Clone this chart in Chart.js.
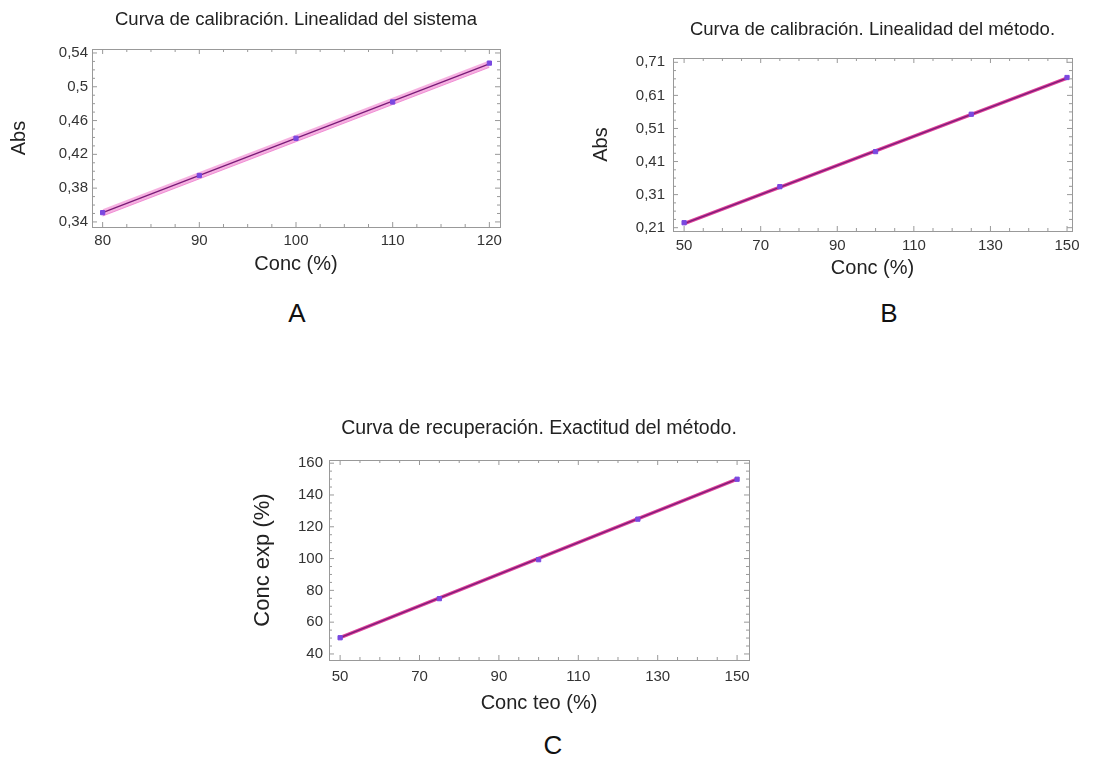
<!DOCTYPE html>
<html>
<head>
<meta charset="utf-8">
<script src="https://cdn.jsdelivr.net/npm/chart.js@4/dist/chart.umd.min.js"></script>
<style>
  body { margin: 0; background: #fff; width: 1096px; height: 762px; position: relative; overflow: hidden; }
  canvas { position: absolute; }
  .tag { position: absolute; font-family: "Liberation Sans", Arial, sans-serif; font-size: 26px; color: #111; transform: translate(-50%, -50%); }
</style>
</head>
<body>
<canvas id="chartA" width="540" height="290" style="left:0;top:0"></canvas>
<canvas id="chartB" width="536" height="290" style="left:560px;top:0"></canvas>
<canvas id="chartC" width="600" height="320" style="left:240px;top:400px"></canvas>
<div class="tag" style="left:297px;top:313px">A</div>
<div class="tag" style="left:889px;top:313px">B</div>
<div class="tag" style="left:553px;top:745px">C</div>
<script>
// A - linealidad del sistema
const concA = [80, 90, 100, 110, 120];
const absA = [0.351, 0.395, 0.439, 0.482, 0.528];
const fitXA = [80, 120];
const fitA = [0.351, 0.527];
const bandUpA = [0.355, 0.531];
const bandLoA = [0.347, 0.523];
const xTicksA = [80, 90, 100, 110, 120];
const yTicksA = [0.34, 0.38, 0.42, 0.46, 0.5, 0.54];

// B - linealidad del metodo
const concB = [50, 75, 100, 125, 150];
const absB = [0.225, 0.334, 0.440, 0.553, 0.664];
const fitXB = [50, 150];
const fitB = [0.222, 0.662];
const xTicksB = [50, 70, 90, 110, 130, 150];
const yTicksB = [0.21, 0.31, 0.41, 0.51, 0.61, 0.71];

// C - exactitud del metodo
const concTeo = [50, 75, 100, 125, 150];
const concExp = [50.2, 74.8, 99.3, 124.8, 149.9];
const fitXC = [50, 150];
const fitC = [50.3, 150.0];
const xTicksC = [50, 70, 90, 110, 130, 150];
const yTicksC = [40, 60, 80, 100, 120, 140, 160];

const FONT = '"Liberation Sans", Arial, sans-serif';
const pts = (xs, ys) => xs.map((x, i) => ({x: x, y: ys[i]}));
const comma = v => String(v).replace('.', ',');

// box round the plot with small inward ticks, like the original
const frame = {
  id: 'frame',
  afterDatasetsDraw(chart) {
    const {ctx, chartArea: a, scales} = chart;
    ctx.save();
    ctx.strokeStyle = '#999';
    ctx.lineWidth = 1;
    ctx.strokeRect(a.left + 0.5, a.top + 0.5, a.right - a.left, a.bottom - a.top);
    ctx.beginPath();
    const xt = scales.x.ticks.map(t => t.value);
    for (let i = 0; i < xt.length; i++) {
      const px = scales.x.getPixelForValue(xt[i]);
      ctx.moveTo(px, a.bottom); ctx.lineTo(px, a.bottom - 5);
      ctx.moveTo(px, a.top); ctx.lineTo(px, a.top + 5);
      if (i < xt.length - 1) {
        for (let k = 1; k < 4; k++) {
          const m = scales.x.getPixelForValue(xt[i] + (xt[i + 1] - xt[i]) * k / 4);
          ctx.moveTo(m, a.bottom); ctx.lineTo(m, a.bottom - 3);
          ctx.moveTo(m, a.top); ctx.lineTo(m, a.top + 3);
        }
      }
    }
    const yt = scales.y.ticks.map(t => t.value);
    for (let i = 0; i < yt.length; i++) {
      const py = scales.y.getPixelForValue(yt[i]);
      ctx.moveTo(a.left, py); ctx.lineTo(a.left + 5, py);
      ctx.moveTo(a.right, py); ctx.lineTo(a.right - 5, py);
      if (i < yt.length - 1) {
        for (let k = 1; k < 4; k++) {
          const m = scales.y.getPixelForValue(yt[i] + (yt[i + 1] - yt[i]) * k / 4);
          ctx.moveTo(a.left, m); ctx.lineTo(a.left + 3, m);
          ctx.moveTo(a.right, m); ctx.lineTo(a.right - 3, m);
        }
      }
    }
    ctx.stroke();
    ctx.restore();
  }
};

function makeChart(id, cfg) {
  const datasets = [];
  if (cfg.band) {
    datasets.push({data: pts(cfg.fitX, cfg.band[0]), showLine: true, borderWidth: 0, pointRadius: 0, fill: false,
      borderColor: 'transparent', order: 4});
    datasets.push({data: pts(cfg.fitX, cfg.band[1]), showLine: true, borderWidth: 1, pointRadius: 0, fill: '-1',
      borderColor: 'rgba(235,110,200,0.7)', backgroundColor: 'rgba(240,125,205,0.6)', order: 3});
  } else {
    datasets.push({data: pts(cfg.fitX, cfg.fit), showLine: true, borderWidth: 3.5, pointRadius: 0,
      borderColor: '#e0409a', order: 3});
  }
  datasets.push({data: pts(cfg.fitX, cfg.fit), showLine: true, borderWidth: 1.3, pointRadius: 0,
    borderColor: '#7a1c78', order: 2});
  datasets.push({data: pts(cfg.xs, cfg.ys), showLine: false, pointStyle: 'rect', pointRadius: 3,
    backgroundColor: '#7a48e0', borderColor: '#7a48e0', borderWidth: 1, order: 1});

  return new Chart(document.getElementById(id), {
    type: 'scatter',
    data: {datasets: datasets},
    plugins: [frame],
    options: {
      responsive: false,
      animation: false,
      layout: {padding: {left: 0, right: cfg.padRight, top: 0, bottom: 0}},
      plugins: {
        legend: {display: false},
        tooltip: {enabled: false},
        title: {
          display: true, text: cfg.title, fullSize: false, color: '#222',
          font: {family: FONT, size: cfg.titleSize, weight: 'normal'},
          padding: cfg.titlePad
        }
      },
      scales: {
        x: {
          type: 'linear', min: cfg.xRange[0], max: cfg.xRange[1],
          grid: {display: false, drawTicks: false}, border: {display: false},
          afterBuildTicks: s => { s.ticks = cfg.xTicks.map(v => ({value: v})); },
          afterFit: s => { s.height = cfg.xAxisH; },
          ticks: {color: '#333', font: {family: FONT, size: 15}, padding: cfg.xTickPad, maxRotation: 0},
          title: {display: true, text: cfg.xTitle, color: '#222', font: {family: FONT, size: cfg.xTitleSize}, padding: {top: 0, bottom: cfg.xTitlePad}}
        },
        y: {
          type: 'linear', min: cfg.yRange[0], max: cfg.yRange[1],
          grid: {display: false, drawTicks: false}, border: {display: false},
          afterBuildTicks: s => { s.ticks = cfg.yTicks.map(v => ({value: v})); },
          afterFit: s => { s.width = cfg.yAxisW; },
          ticks: {color: '#333', font: {family: FONT, size: 15}, padding: cfg.yTickPad, callback: v => comma(v)},
          title: {display: true, text: cfg.yTitle, color: '#222', font: {family: FONT, size: cfg.yTitleSize}, padding: {top: cfg.yTitlePad, bottom: 0}}
        }
      }
    }
  });
}

makeChart('chartA', {
  title: 'Curva de calibración. Linealidad del sistema', titleSize: 18.5, titlePad: {top: 9, bottom: 17.8},
  xs: concA, ys: absA, fitX: fitXA, fit: fitA, band: [bandUpA, bandLoA],
  xTicks: xTicksA, yTicks: yTicksA, xRange: [78.9, 121.1], yRange: [0.334, 0.5447],
  padRight: 40, xAxisH: 63, yAxisW: 92, xTickPad: 5, yTickPad: 4,
  xTitle: 'Conc (%)', xTitleSize: 20, xTitlePad: 14, yTitle: 'Abs', yTitleSize: 20, yTitlePad: 7
});

makeChart('chartB', {
  title: 'Curva de calibración. Linealidad del método.', titleSize: 18.5, titlePad: {top: 18.9, bottom: 16.9},
  xs: concB, ys: absB, fitX: fitXB, fit: fitB,
  xTicks: xTicksB, yTicks: yTicksB, xRange: [47.1, 151.3], yRange: [0.200, 0.723],
  padRight: 24, xAxisH: 59, yAxisW: 113, xTickPad: 6, yTickPad: 8,
  xTitle: 'Conc (%)', xTitleSize: 20, xTitlePad: 10, yTitle: 'Abs', yTitleSize: 20, yTitlePad: 29.7
});

makeChart('chartC', {
  title: 'Curva de recuperación. Exactitud del método.', titleSize: 19.5, titlePad: {top: 17.3, bottom: 19.3},
  xs: concTeo, ys: concExp, fitX: fitXC, fit: fitC,
  xTicks: xTicksC, yTicks: yTicksC, xRange: [47.2, 153], yRange: [36.2, 162],
  padRight: 91, xAxisH: 60, yAxisW: 89, xTickPad: 7.5, yTickPad: 6,
  xTitle: 'Conc teo (%)', xTitleSize: 20, xTitlePad: 4.7, yTitle: 'Conc exp (%)', yTitleSize: 22, yTitlePad: 10
});
</script>
</body>
</html>
